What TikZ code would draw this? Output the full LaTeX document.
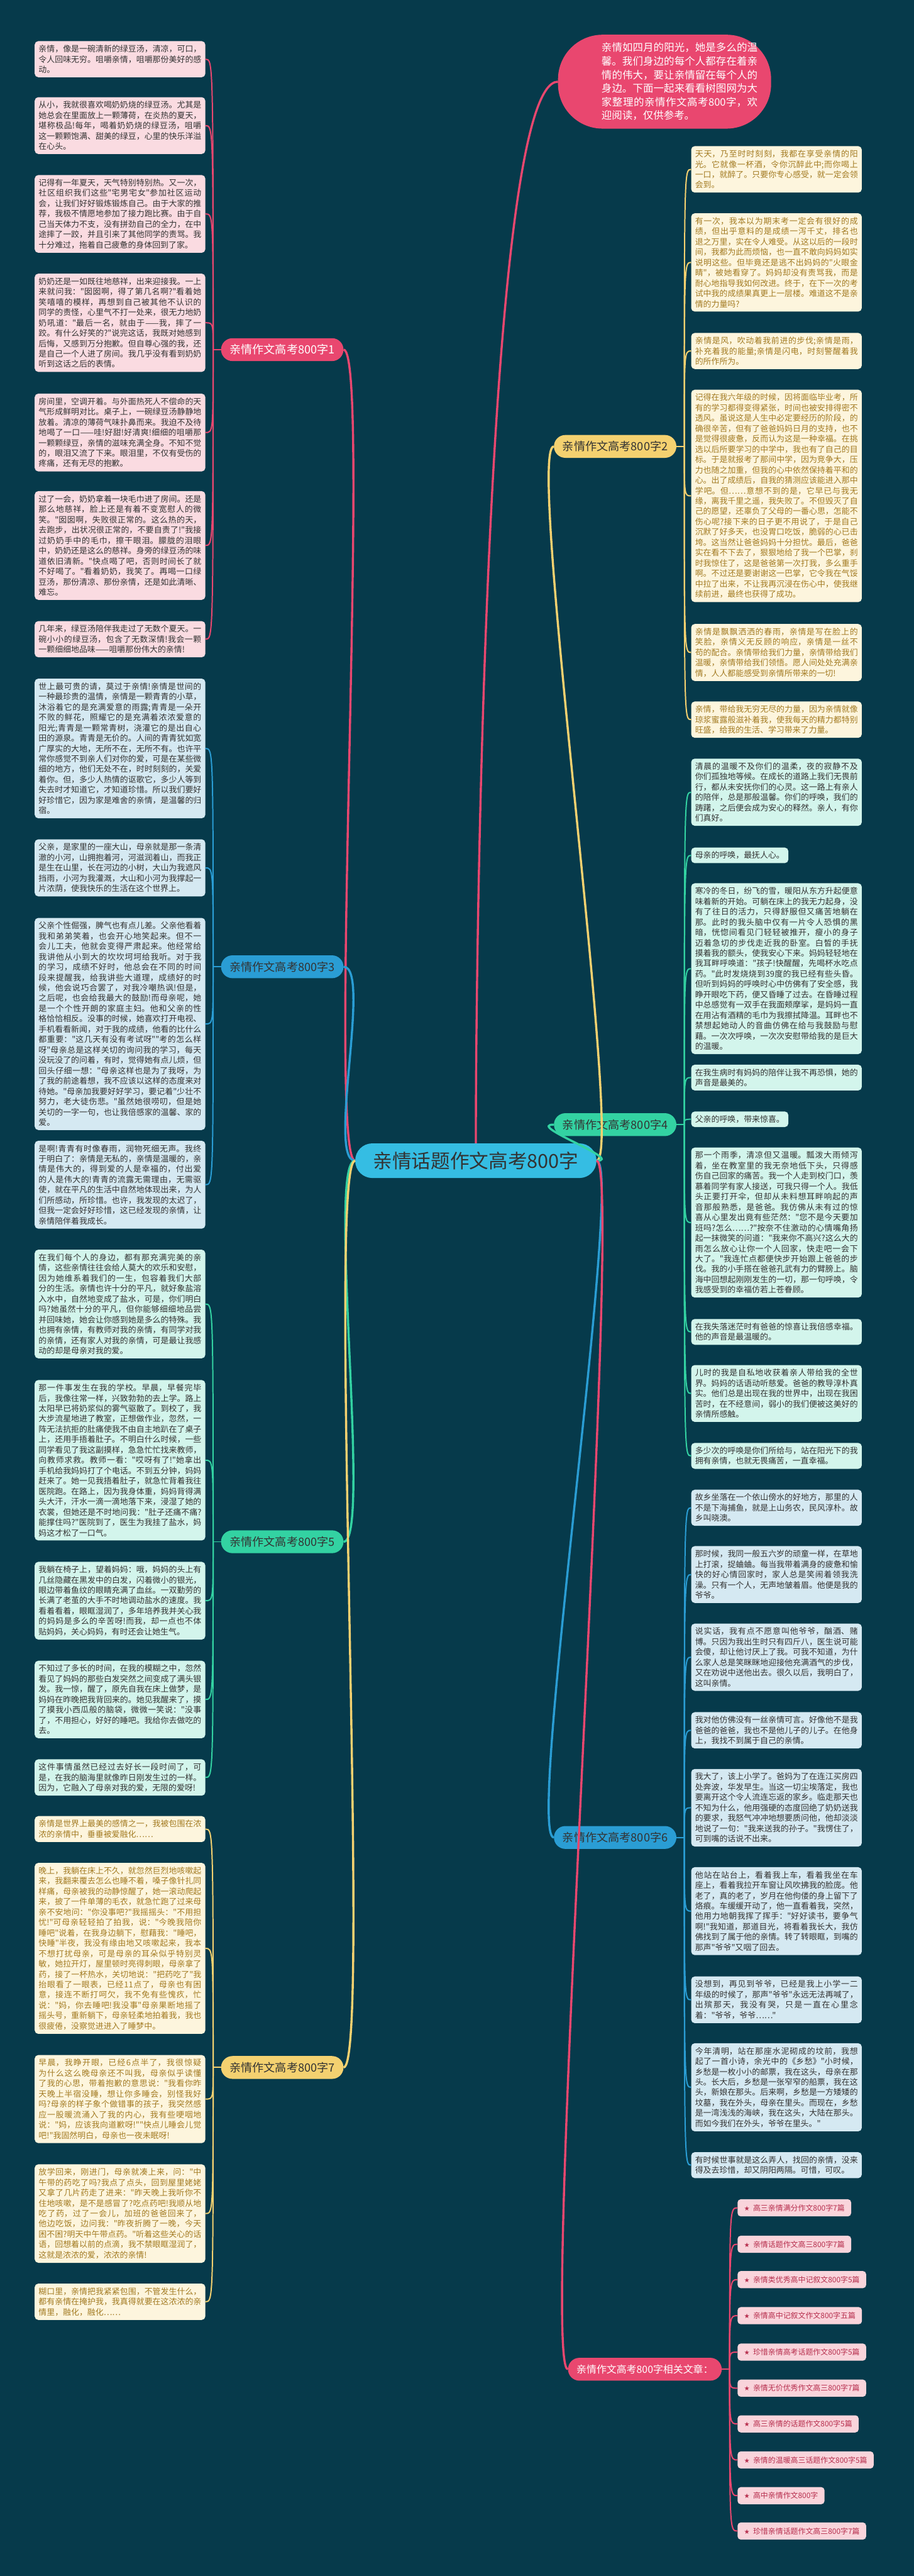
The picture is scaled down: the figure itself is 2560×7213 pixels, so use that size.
\documentclass[tikz,border=0pt]{standalone}
\usepackage{fontspec}
\newfontfamily\cjk{Noto Sans CJK SC}
\newfontfamily\symb{DejaVu Sans}
\XeTeXlinebreaklocale "zh"
\XeTeXlinebreakskip=0pt plus 1pt
\definecolor{bgc}{HTML}{063A4B}
\definecolor{pinkc}{HTML}{E9476F}
\definecolor{pinkf}{HTML}{FADBE1}
\definecolor{bluec}{HTML}{2A9DD4}
\definecolor{bluef}{HTML}{D5E9F2}
\definecolor{greenc}{HTML}{33D2A2}
\definecolor{greenf}{HTML}{D3F5EC}
\definecolor{yelc}{HTML}{F4D170}
\definecolor{yelf}{HTML}{FDF5DD}
\definecolor{yelt}{HTML}{A37B22}
\definecolor{inkc}{HTML}{333333}
\definecolor{rootc}{HTML}{35BDE3}
\definecolor{relf}{HTML}{F9D4DB}
\definecolor{relt}{HTML}{B72E4D}
\newcommand{\leaffont}{\cjk\fontsize{22.75}{29}\selectfont}
\begin{document}
\begin{tikzpicture}[x=1pt,y=-1pt,
  leaf/.style={anchor=north west,rounded corners=10pt,inner xsep=11pt,inner ysep=11pt,text width=456pt,align=justify,font=\leaffont,text=inkc},
  shortleaf/.style={anchor=north west,rounded corners=10pt,inner xsep=11pt,inner ysep=11pt,font=\leaffont,text=inkc},
  pinkleaf/.style={leaf,fill=pinkf},
  blueleaf/.style={leaf,fill=bluef},
  greenleaf/.style={leaf,fill=greenf},
  yelleaf/.style={leaf,fill=yelf,text=yelt},
  branch/.style={rounded corners=32pt,minimum height=64pt,inner xsep=24pt,font=\cjk\fontsize{32}{36}\selectfont,text=inkc},
  relitem/.style={anchor=west,fill=relf,rounded corners=9pt,minimum height=48pt,inner xsep=18pt,font=\cjk\fontsize{21}{24}\selectfont,text=relt},
  pinkline/.style={draw=pinkc,line width=3.5pt},
  blueline/.style={draw=bluec,line width=3.5pt},
  greenline/.style={draw=greenc,line width=3.5pt},
  yelline/.style={draw=yelc,line width=3.5pt}]
\useasboundingbox (0,0) rectangle (2560,7213);
\fill[bgc] (0,0) rectangle (2560,7213);

\node[rounded corners=48pt,fill=rootc,minimum height=97pt,inner xsep=50pt,font=\cjk\fontsize{54}{60}\selectfont,text=inkc] (root) at (1333,3250) {亲情话题作文高考800字};

\node[anchor=north west,rounded corners=125pt,fill=pinkc,minimum width=597pt,minimum height=263pt,inner xsep=38pt,text=white,font=\cjk\fontsize{29}{38}\selectfont] (intro) at (1563,97) {\hspace*{84pt}\begin{minipage}{437pt}亲情如四月的阳光，她是多么的温馨。我们身边的每个人都存在着亲情的伟大，要让亲情留在每个人的身边。下面一起来看看树图网为大家整理的亲情作文高考800字，欢迎阅读，仅供参考。\end{minipage}};

\node[branch,fill=pinkc,text=white,anchor=west] (b1) at (619,979) {亲情作文高考800字1};
\node[branch,fill=bluec,anchor=west] (b3) at (619,2707) {亲情作文高考800字3};
\node[branch,fill=greenc,anchor=west] (b5) at (619,4317) {亲情作文高考800字5};
\node[branch,fill=yelc,anchor=west] (b7) at (619,5789) {亲情作文高考800字7};
\node[branch,fill=yelc,anchor=east] (b2) at (1895,1250) {亲情作文高考800字2};
\node[branch,fill=greenc,anchor=east] (b4) at (1895,3149) {亲情作文高考800字4};
\node[branch,fill=bluec,anchor=east] (b6) at (1895,5145) {亲情作文高考800字6};
\node[branch,fill=pinkc,text=white,anchor=east,font=\cjk\fontsize{28}{32}\selectfont] (rel) at (2022,6634) {亲情作文高考800字相关文章：};

\node[pinkleaf] (l1) at (97,115) {亲情，像是一碗清新的绿豆汤，清凉，可口，令人回味无穷。咀嚼亲情，咀嚼那份美好的感动。};
\node[pinkleaf] (l2) at (97,272) {从小，我就很喜欢喝奶奶烧的绿豆汤。尤其是她总会在里面放上一颗薄荷，在炎热的夏天，堪称极品!每年，喝着奶奶烧的绿豆汤，咀嚼这一颗颗饱满、甜美的绿豆，心里的快乐洋溢在心头。};
\node[pinkleaf] (l3) at (97,490) {记得有一年夏天，天气特别特别热。又一次，社区组织我们这些"宅男宅女"参加社区运动会，让我们好好锻炼锻炼自己。由于大家的推荐，我极不情愿地参加了接力跑比赛。由于自己当天体力不支，没有拼劲自己的全力，在中途摔了一跤，并且引来了其他同学的责骂。我十分难过，拖着自己疲惫的身体回到了家。};
\node[pinkleaf] (l4) at (97,766) {奶奶还是一如既往地慈祥，出来迎接我。一上来就问我："囡囡啊，得了第几名啊?"看着她笑嘻嘻的模样，再想到自己被其他不认识的同学的责怪，心里气不打一处来，很无力地奶奶吼道："最后一名，就由于——我，摔了一跤。有什么好笑的?"说完这话，我既对她感到后悔，又感到万分抱歉。但自尊心强的我，还是自己一个人进了房间。我几乎没有看到奶奶听到这话之后的表情。};
\node[pinkleaf] (l5) at (97,1102) {房间里，空调开着。与外面热死人不偿命的天气形成鲜明对比。桌子上，一碗绿豆汤静静地放着。清凉的薄荷气味扑鼻而来。我迫不及待地喝了一口——哇!好甜!好清爽!细细的咀嚼那一颗颗绿豆，亲情的滋味充满全身。不知不觉的，眼泪又流了下来。眼泪里，不仅有受伤的疼痛，还有无尽的抱歉。};
\node[pinkleaf] (l6) at (97,1375) {过了一会，奶奶拿着一块毛巾进了房间。还是那么地慈祥，脸上还是有着不变宽慰人的微笑。"囡囡啊，失败很正常的。这么热的天，去跑步，出状况很正常的，不要自责了!"我接过奶奶手中的毛巾，擦干眼泪。朦胧的泪眼中，奶奶还是这么的慈祥。身旁的绿豆汤的味道依旧清新。"快点喝了吧，否则时间长了就不好喝了。"看着奶奶，我笑了。再喝一口绿豆汤，那份清凉、那份亲情，还是如此清晰、难忘。};
\node[pinkleaf] (l7) at (97,1739) {几年来，绿豆汤陪伴我走过了无数个夏天。一碗小小的绿豆汤，包含了无数深情!我会一颗一颗细细地品味——咀嚼那份伟大的亲情!};

\node[blueleaf] (l8) at (97,1900) {世上最可贵的请，莫过于亲情!亲情是世间的一种最珍贵的温情，亲情是一颗青青的小草，沐浴着它的是充满爱意的雨露;青青是一朵开不败的鲜花，照耀它的是充满着浓浓爱意的阳光;青青是一颗常青树，浇灌它的是出自心田的源泉。青青是无价的。人间的青青犹如宽广厚实的大地，无所不在，无所不有。也许平常你感觉不到亲人们对你的爱，可是在某些微细的地方，他们无处不在，时时刻刻的，关爱着你。但，多少人热情的讴歌它，多少人等到失去时才知道它，才知道珍惜。所以我们要好好珍惜它，因为家是难舍的亲情，是温馨的归宿。};
\node[blueleaf] (l9) at (97,2350) {父亲，是家里的一座大山，母亲就是那一条清澈的小河，山拥抱着河，河滋润着山，而我正是生在山里，长在河边的小树，大山为我遮风挡雨，小河为我灌溉，大山和小河为我撑起一片浓荫，使我快乐的生活在这个世界上。};
\node[blueleaf] (l10) at (97,2570) {父亲个性倔强，脾气也有点儿差。父亲他看着我和弟弟笑着，也会开心地笑起来。但不一会儿工夫，他就会变得严肃起来。他经常给我讲他从小到大的坎坎坷坷给我听。对于我的学习，成绩不好时，他总会在不同的时间段来提醒我，给我讲些大道理，成绩好的时候，他会说巧合罢了，对我冷嘲热讽!但是，之后呢，也会给我最大的鼓励!而母亲呢，她是一个个性开朗的家庭主妇。他和父亲的性格恰恰相反。没事的时候，她喜欢打开电视、手机看看新闻，对于我的成绩，他看的比什么都重要："这几天有没有考试呀""考的怎么样呀"母亲总是这样关切的询问我的学习，每天没玩没了的问着，有时，觉得她有点儿烦，但回头仔细一想："母亲这样也是为了我呀，为了我的前途着想，我不应该以这样的态度来对待她。"母亲加我要好好学习，要记着"少壮不努力，老大徒伤悲。"虽然她很唠叨，但是她关切的一字一句，也让我倍感家的温馨、家的爱。};
\node[blueleaf] (l11) at (97,3194) {是啊!青青有时像春雨，润物死细无声。我终于明白了：亲情是无私的，亲情是温暖的，亲情是伟大的，得到爱的人是幸福的，付出爱的人是伟大的!青青的流露无需理由，无需驱使，就在平凡的生活中自然地体现出来，为人们所感动，所珍惜。也许，我发现的太迟了，但我一定会好好珍惜，这已经发现的亲情，让亲情陪伴着我成长。};

\node[greenleaf] (l12) at (97,3499) {在我们每个人的身边，都有那充满完美的亲情，这些亲情往往会给人莫大的欢乐和安慰，因为她维系着我们的一生，包容着我们大部分的生活。亲情也许十分的平凡，就好象盐溶入水中，自然地变成了盐水，可是，你们明白吗?她虽然十分的平凡，但你能够细细地品尝并回味她，她会让你感到她是多么的特殊。我也拥有亲情，有教师对我的亲情，有同学对我的亲情，还有家人对我的亲情，可是最让我感动的却是母亲对我的爱。};
\node[greenleaf] (l13) at (97,3864) {那一件事发生在我的学校。早晨，早餐完毕后，我像往常一样，兴致勃勃的去上学。路上太阳早已将奶浆似的雾气驱散了。到校了，我大步流星地进了教室，正想做作业，忽然，一阵无法抗拒的肚痛使我不由自主地趴在了桌子上，还用手捂着肚子。不明白什么时候，一些同学看见了我这副摸样，急急忙忙找来教师，向教师求救。教师一看："哎呀有了!"她拿出手机给我妈妈打了个电话。不到五分钟，妈妈赶来了。她一见我捂着肚子，就急忙背着我往医院跑。在路上，因为我身体重，妈妈背得满头大汗，汗水一滴一滴地落下来，浸湿了她的衣裳，但她还是不时地问我："肚子还痛不痛?能撑住吗?"医院到了，医生为我挂了盐水，妈妈这才松了一口气。};
\node[greenleaf] (l14) at (97,4373) {我躺在椅子上，望着妈妈：哦，妈妈的头上有几丝隐藏在黑发中的白发，闪着微小的银光，眼边带着鱼纹的眼睛充满了血丝。一双勤劳的长满了老茧的大手不时地调动盐水的速度。我看着看着，眼眶湿润了，多年培养我并关心我的妈妈是多么的辛苦呀!而我，却一点也不体贴妈妈，关心妈妈，有时还会让她生气。};
\node[greenleaf] (l15) at (97,4650) {不知过了多长的时间，在我的模糊之中，忽然看见了妈妈的那些白发突然之间变成了满头银发。我一惊，醒了，原先自我在床上做梦，是妈妈在昨晚把我背回来的。她见我醒来了，摸了摸我小西瓜般的脑袋，微微一笑说："没事了，不用担心，好好的睡吧。我给你去做吃的去。};
\node[greenleaf] (l16) at (97,4926) {这件事情虽然已经过去好长一段时间了，可是，在我的脑海里就像昨日刚发生过的一样。因为，它融入了母亲对我的爱，无限的爱呀!};

\node[yelleaf] (l17) at (97,5085) {亲情是世界上最美的感情之一，我被包围在浓浓的亲情中，垂垂被爱融化……};
\node[yelleaf] (l18) at (97,5216) {晚上，我躺在床上不久，就忽然巨烈地咳嗽起来，我翻来覆去怎么也睡不着，嗓子像针扎同样痛，母亲被我的动静惊醒了，她一滚动爬起来，披了一件单薄的毛衣，就急忙跑了过来母亲不安地问："你没事吧?"我摇摇头："不用担忧!"可母亲轻轻拍了拍我，说："今晚我陪你睡吧"说着，在我身边躺下，慰藉我："睡吧，快睡"半夜，我没有缘由地又咳嗽起来，我本不想打扰母亲，可是母亲的耳朵似乎特别灵敏，她拉开灯，屋里顿时亮得刺眼，母亲拿了药，接了一杯热水，关切地说："把药吃了"我抬眼看了一眼表，已经11点了，母亲也有困意，接连不断打呵欠，我不免有些愧疚，忙说："妈，你去睡吧!我没事"母亲果断地摇了摇头号，重新躺下，母亲轻柔地拍着我，我也很疲倦，没察觉进进入了睡梦中。};
\node[yelleaf] (l19) at (97,5754) {早晨，我睁开眼，已经6点半了，我很惊疑为什么这么晚母亲还不叫我，母亲似乎读懂了我的心思，带着抱歉的意思说："我看你昨天晚上半宿没睡，想让你多睡会，别怪我好吗?母亲的样子象个做错事的孩子，我突然感应一股暖流涌入了我的内心，我有些哽咽地说："妈，应该我向道歉呀!""快点儿睡会儿觉吧!"我固然明白，母亲也一夜未眠呀!};
\node[yelleaf] (l20) at (97,6060) {放学回来，刚进门，母亲就凑上来，问："中午带的药吃了吗?我点了点头，回到屋里姥姥又拿了几片药走了进来："昨天晚上我听你不住地咳嗽，是不是感冒了?吃点药吧!我顺从地吃了药，过了一会儿，加班的爸爸回来了，他边吃饭，边问我："昨夜折腾了一晚，今天困不困?明天中午带点药。"听着这些关心的话语，回想着以前的点滴，我不禁眼眶湿润了，这就是浓浓的爱，浓浓的亲情!};
\node[yelleaf] (l21) at (97,6394) {糊口里，亲情把我紧紧包围，不管发生什么，都有亲情在掩护我，我真得就要在这浓浓的亲情里，融化，融化……};

\node[yelleaf] (r1) at (1936,409) {天天，乃至时时刻刻，我都在享受亲情的阳光。它就像一杯酒，令你沉醉此中;而你喝上一口，就醉了。只要你专心感受，就一定会领会到。};
\node[yelleaf] (r2) at (1936,597) {有一次，我本以为期末考一定会有很好的成绩，但出乎意料的是成绩一泻千丈，排名也退之万里，实在令人难受。从这以后的一段时间，我都为此而烦恼，也一直不敢向妈妈如实说明这些。但毕竟还是逃不出妈妈的"火眼金睛"，被她看穿了。妈妈却没有责骂我，而是耐心地指导我如何改进。终于，在下一次的考试中我的成绩果真更上一层楼。难道这不是亲情的力量吗?};
\node[yelleaf] (r3) at (1936,932) {亲情是风，吹动着我前进的步伐;亲情是雨，补充着我的能量;亲情是闪电，时刻警醒着我的所作所为。};
\node[yelleaf] (r4) at (1936,1091) {记得在我六年级的时候，因将面临毕业考，所有的学习都得变得紧张，时间也被安排得密不透风。虽说这是人生中必定要经历的阶段，的确很辛苦，但有了爸爸妈妈日月的支持，也不是觉得很疲惫，反而认为这是一种幸福。在挑选以后所要学习的中学中，我也有了自己的目标。于是就报考了那间中学，因为竞争大，压力也随之加重，但我的心中依然保持着平和的心。出了成绩后，自我的猜测应该能进入那中学吧。但……意想不到的是，它早已与我无缘，离我千里之遥，我失败了。不但毁灭了自己的愿望，还辜负了父母的一番心思，怎能不伤心呢?接下来的日子更不用说了，于是自己沉默了好多天，也没胃口吃饭，脆弱的心已击垮。这当然让爸爸妈妈十分担忧。最后，爸爸实在看不下去了，狠狠地给了我一个巴掌，刹时我惊住了，这是爸爸第一次打我，多么重手啊。不过还是要谢谢这一巴掌，它令我在气馁中拉了出来，不让我再沉浸在伤心中，使我继续前进，最终也获得了成功。};
\node[yelleaf] (r5) at (1936,1747) {亲情是飘飘洒洒的春雨，亲情是写在脸上的笑脸，亲情义无反顾的响应，亲情是一丝不苟的配合。亲情带给我们力量，亲情带给我们温暖，亲情带给我们领悟。愿人间处处充满亲情，人人都能感受到亲情所带来的一切!};
\node[yelleaf] (r6) at (1936,1964) {亲情，带给我无穷无尽的力量，因为亲情就像琼浆蜜露般滋补着我，使我每天的精力都特别旺盛，给我的生活、学习带来了力量。};

\node[greenleaf] (r7) at (1936,2124) {清晨的温暖不及你们的温柔，夜的寂静不及你们孤独地等候。在成长的道路上我们无畏前行，都从未安抚你们的心灵。这一路上有亲人的陪伴，总是那般温馨。你们的呼唤，我们的踌躇，之后便会成为安心的释然。亲人，有你们真好。};
\node[shortleaf,fill=greenf] (r8) at (1936,2373) {母亲的呼唤，最抚人心。};
\node[greenleaf] (r9) at (1936,2473) {寒冷的冬日，纷飞的雪，暖阳从东方升起便意味着新的开始。可躺在床上的我无力起身，没有了往日的活力，只得舒服但又痛苦地躺在那。此时的我头脑中仅有一片令人恐惧的黑暗，恍惚间看见门轻轻被推开，瘦小的身子迈着急切的步伐走近我的卧室。白皙的手抚摸着我的额头，使我安心下来。妈妈轻轻地在我耳畔呼唤道："孩子!快醒醒，先喝杯水吃点药。"此时发烧烧到39度的我已经有些头昏。但听到妈妈的呼唤时心中仿佛有了安全感，我睁开眼吃下药，便又昏睡了过去。在昏睡过程中总感觉有一双手在我面颊摩挲，是妈妈一直在用沾有酒精的毛巾为我擦拭降温。耳畔也不禁想起她动人的音曲仿佛在给与我鼓励与慰藉。一次次呼唤，一次次安慰带给我的是巨大的温暖。};
\node[greenleaf] (r10) at (1936,2981) {在我生病时有妈妈的陪伴让我不再恐惧，她的声音是最美的。};
\node[shortleaf,fill=greenf] (r11) at (1936,3112) {父亲的呼唤，带来惊喜。};
\node[greenleaf] (r12) at (1936,3213) {那一个雨季，清凉但又温暖。瓢泼大雨倾泻着，坐在教室里的我无奈地低下头，只得感伤自己回家的痛苦。我一个人走到校门口，羡慕着同学有家人接送，可我只得一个人。我低头正要打开伞，但却从未料想耳畔响起的声音那般熟悉，是爸爸。我仿佛从未有过的惊喜从心里发出竟有些茫然："您不是今天要加班吗?怎么……?"按奈不住激动的心情嘴角扬起一抹微笑的问道："我来你不高兴?这么大的雨怎么放心让你一个人回家，快走吧一会下大了。"我连忙点都便快步开始跟上爸爸的步伐。我的小手搭在爸爸孔武有力的臂膀上。脑海中回想起刚刚发生的一切，那一句呼唤，令我感受到的幸福仿若上苍眷顾。};
\node[greenleaf] (r13) at (1936,3693) {在我失落迷茫时有爸爸的惊喜让我倍感幸福。他的声音是最温暖的。};
\node[greenleaf] (r14) at (1936,3822) {儿时的我是自私地收获着亲人带给我的全世界。妈妈的话语动听慈爱。爸爸的教导淳朴真实。他们总是出现在我的世界中，出现在我困苦时，在不经意间，弱小的我们便被这美好的亲情所感触。};
\node[greenleaf] (r15) at (1936,4040) {多少次的呼唤是你们所给与，站在阳光下的我拥有亲情，也就无畏痛苦，一直幸福。};

\node[blueleaf] (r16) at (1936,4171) {故乡坐落在一个依山傍水的好地方，那里的人不是下海捕鱼，就是上山务农，民风淳朴。故乡叫晓澳。};
\node[blueleaf] (r17) at (1936,4329) {那时候，我同一般五六岁的顽童一样，在草地上打滚，捉蛐蛐。每当我带着满身的疲惫和愉快的好心情回家时，家人总是笑闹着领我洗澡。只有一个人，无声地皱着眉。他便是我的爷爷。};
\node[blueleaf] (r18) at (1936,4546) {说实话，我有点不愿意叫他爷爷，酗酒、赌博。只因为我出生时只有四斤八，医生说可能会傻，却让他讨厌上了我。可我不知道，为什么家人总是笑眯眯地迎接他充满酒气的步伐，又在劝说中送他出去。很久以后，我明白了，这叫亲情。};
\node[blueleaf] (r19) at (1936,4794) {我对他仿佛没有一丝亲情可言。好像他不是我爸爸的爸爸，我也不是他儿子的儿子。在他身上，我找不到属于自己的亲情。};
\node[blueleaf] (r20) at (1936,4953) {我大了，该上小学了。爸妈为了在连江买房四处奔波，华发早生。当这一切尘埃落定，我也要离开这个令人流连忘返的家乡。临走那天也不知为什么，他用强硬的态度回绝了奶奶送我的要求，我怒气冲冲地想要质问他，他却淡淡地说了一句："我来送我的孙子。"我愣住了，可到嘴的话说不出来。};
\node[blueleaf] (r21) at (1936,5228) {他站在站台上，看着我上车，看着我坐在车座上，看着我拉开车窗让风吹拂我的脸庞。他老了，真的老了，岁月在他佝偻的身上留下了烙痕。车缓缓开动了，他一直看着我，突然，他用力地朝我挥了挥手："好好读书，要争气啊!"我知道，那道目光，将看着我长大，我仿佛找到了属于他的亲情。转了转眼眶，到嘴的那声"爷爷"又咽了回去。};
\node[blueleaf] (r22) at (1936,5534) {没想到，再见到爷爷，已经是我上小学一二年级的时候了，那声"爷爷"永远无法再喊了，出殡那天，我没有哭，只是一直在心里念着："爷爷，爷爷……"};
\node[blueleaf] (r23) at (1936,5721) {今年清明，站在那座水泥砌成的坟前，我想起了一首小诗，余光中的《乡愁》"小时候，乡愁是一枚小小的邮票，我在这头，母亲在那头。长大后，乡愁是一张窄窄的船票，我在这头，新娘在那头。后来啊，乡愁是一方矮矮的坟墓，我在外头，母亲在里头。而现在，乡愁是一湾浅浅的海峡，我在这头，大陆在那头。而如今我们在外头，爷爷在里头。"};
\node[blueleaf] (r24) at (1936,6026) {有时候世事就是这么弄人，找回的亲情，没来得及去珍惜，却又阴阳两隔。可惜，可叹。};

\node[relitem] (s1) at (2066,6182) {{\symb\fontsize{18}{20}\selectfont ★}\ \ 高三亲情满分作文800字7篇};
\node[relitem] (s2) at (2066,6284) {{\symb\fontsize{18}{20}\selectfont ★}\ \ 亲情话题作文高三800字7篇};
\node[relitem] (s3) at (2066,6383) {{\symb\fontsize{18}{20}\selectfont ★}\ \ 亲情类优秀高中记叙文800字5篇};
\node[relitem] (s4) at (2066,6484) {{\symb\fontsize{18}{20}\selectfont ★}\ \ 亲情高中记叙文作文800字五篇};
\node[relitem] (s5) at (2066,6586) {{\symb\fontsize{18}{20}\selectfont ★}\ \ 珍惜亲情高考话题作文800字5篇};
\node[relitem] (s6) at (2066,6687) {{\symb\fontsize{18}{20}\selectfont ★}\ \ 亲情无价优秀作文高三800字7篇};
\node[relitem] (s7) at (2066,6787) {{\symb\fontsize{18}{20}\selectfont ★}\ \ 高三亲情的话题作文800字5篇};
\node[relitem] (s8) at (2066,6888) {{\symb\fontsize{18}{20}\selectfont ★}\ \ 亲情的温暖高三话题作文800字5篇};
\node[relitem] (s9) at (2066,6988) {{\symb\fontsize{18}{20}\selectfont ★}\ \ 高中亲情作文800字};
\node[relitem] (s10) at (2066,7087) {{\symb\fontsize{18}{20}\selectfont ★}\ \ 珍惜亲情话题作文高三800字7篇};

\draw[pinkline,line width=6pt] (root.north) .. controls +(0,-600) and +(-200,0) .. (intro.west);
\draw[pinkline,line width=6pt] (root.west) .. controls +(-80,0) and +(80,0) .. (b1.east);
\draw[blueline,line width=6pt] (root.west) .. controls +(-80,0) and +(80,0) .. (b3.east);
\draw[greenline,line width=6pt] (root.west) .. controls +(-80,0) and +(80,0) .. (b5.east);
\draw[yelline,line width=6pt] (root.west) .. controls +(-80,0) and +(80,0) .. (b7.east);
\draw[yelline,line width=6pt] (root.east) .. controls +(80,0) and +(-80,0) .. (b2.west);
\draw[greenline,line width=6pt] (root.east) .. controls +(80,0) and +(-80,0) .. (b4.west);
\draw[blueline,line width=6pt] (root.east) .. controls +(80,0) and +(-80,0) .. (b6.west);
\draw[pinkline,line width=6pt] (root.east) .. controls +(80,0) and +(-80,0) .. (rel.west);

\draw[pinkline] (b1.west) -- ++(-22,0) coordinate (t1);
\draw[blueline] (b3.west) -- ++(-22,0) coordinate (t3);
\draw[greenline] (b5.west) -- ++(-22,0) coordinate (t5);
\draw[yelline] (b7.west) -- ++(-22,0) coordinate (t7);
\draw[yelline] (b2.east) -- ++(22,0) coordinate (t2);
\draw[greenline] (b4.east) -- ++(22,0) coordinate (t4);
\draw[blueline] (b6.east) -- ++(22,0) coordinate (t6);
\draw[pinkline] (rel.east) -- ++(22,0) coordinate (t8);
\foreach \n in {l1,l2,l3,l4,l5,l6,l7}
  \draw[pinkline] (t1) .. controls (t1 |- \n.east) and (t1 |- \n.east) .. (\n.east);
\foreach \n in {l8,l9,l10,l11}
  \draw[blueline] (t3) .. controls (t3 |- \n.east) and (t3 |- \n.east) .. (\n.east);
\foreach \n in {l12,l13,l14,l15,l16}
  \draw[greenline] (t5) .. controls (t5 |- \n.east) and (t5 |- \n.east) .. (\n.east);
\foreach \n in {l17,l18,l19,l20,l21}
  \draw[yelline] (t7) .. controls (t7 |- \n.east) and (t7 |- \n.east) .. (\n.east);
\foreach \n in {r1,r2,r3,r4,r5,r6}
  \draw[yelline] (t2) .. controls (t2 |- \n.west) and (t2 |- \n.west) .. (\n.west);
\foreach \n in {r7,r8,r9,r10,r11,r12,r13,r14,r15}
  \draw[greenline] (t4) .. controls (t4 |- \n.west) and (t4 |- \n.west) .. (\n.west);
\foreach \n in {r16,r17,r18,r19,r20,r21,r22,r23,r24}
  \draw[blueline] (t6) .. controls (t6 |- \n.west) and (t6 |- \n.west) .. (\n.west);
\foreach \n in {s1,s2,s3,s4,s5,s6,s7,s8,s9,s10}
  \draw[pinkline] (t8) .. controls (t8 |- \n.west) and (t8 |- \n.west) .. (\n.west);
\end{tikzpicture}
\end{document}
